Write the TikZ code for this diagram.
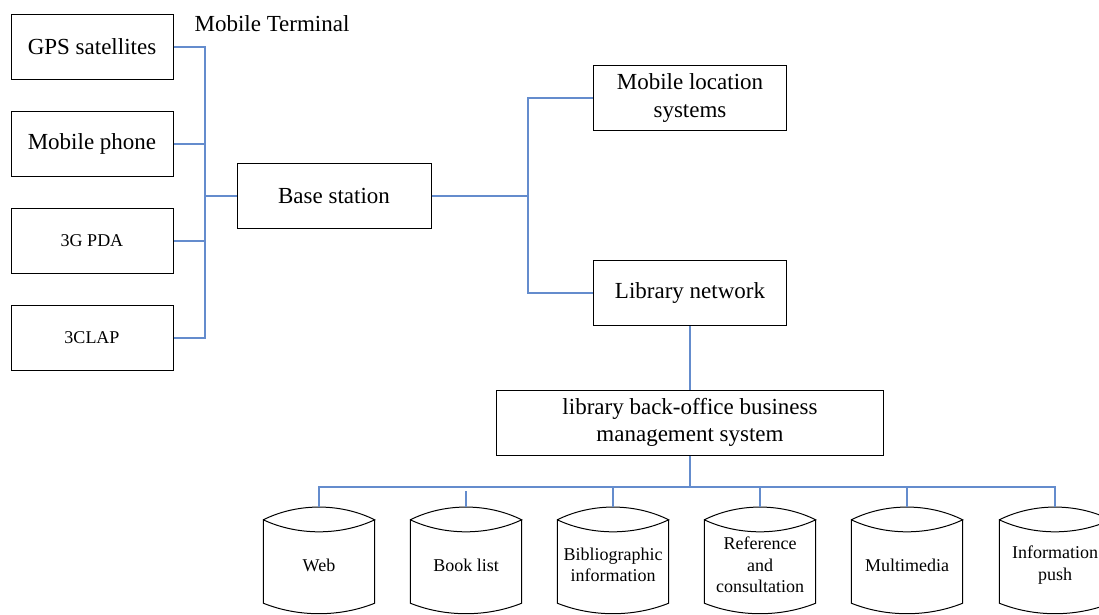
\documentclass[tikz,border=0pt]{standalone}
\usepackage{fontspec}
\setmainfont{Liberation Serif}
\usepackage{tikz}

\definecolor{linkblue}{RGB}{100,140,205}

\begin{document}
\begin{tikzpicture}[x=1pt,y=-1pt,
  termbox/.style={draw,line width=1pt,minimum width=162pt,minimum height=65pt,inner sep=0pt,font=\fontsize{23}{27.6}\selectfont},
  sysbox/.style={draw,line width=1pt,minimum height=65pt,inner sep=0pt,align=center,font=\fontsize{23}{27.6}\selectfont},
  smalltext/.style={font=\fontsize{18}{21.6}\selectfont},
  drum/.style={minimum width=111pt,minimum height=90pt,inner sep=0pt,align=center,font=\fontsize{18}{21.6}\selectfont},
  link/.style={draw=linkblue,line width=1.4pt}]
\useasboundingbox (0,0) rectangle (1099,614);

\node [termbox] (gps) at (92,47) {GPS satellites};
\node [termbox] (phone) at (92,144) {Mobile phone};
\node [termbox,smalltext] (pda) at (92,241) {3G PDA};
\node [termbox,smalltext] (clap) at (92,338) {3CLAP};
\node [font=\fontsize{23}{27.6}\selectfont] (mobterm) at (272,24) {Mobile Terminal};

\node [sysbox,minimum width=194pt] (base) at (334,196) {Base station};
\node [sysbox,minimum width=193pt] (mobloc) at (690,98) {Mobile location\\systems};
\node [sysbox,minimum width=193pt] (libnet) at (690,293) {Library network};
\node [sysbox,minimum width=387pt] (backoffice) at (690,422.5)
  {library back-office business\\management system};

\node [drum] (web) at (319,565) {Web};
\node [drum] (booklist) at (466,565) {Book list};
\node [drum] (biblio) at (613,565) {Bibliographic\\information};
\node [drum] (refcons) at (760,565) {Reference\\and\\consultation};
\node [drum] (multimedia) at (907,565) {Multimedia};
\node [drum] (infopush) at (1055,565) {Information\\push};

\foreach \n in {web,booklist,biblio,refcons,multimedia,infopush}{
  \draw [line width=1pt] (\n.north west) .. controls +(34,-17) and +(-34,-17) .. (\n.north east)
    .. controls +(-34,16) and +(34,16) .. (\n.north west) -- ([yshift=7pt]\n.south west)
    .. controls +(35,14) and +(-35,14) .. ([yshift=7pt]\n.south east) -- (\n.north east);
  \coordinate (\n-top) at ([yshift=13pt]\n.north);
}

\coordinate (mt) at (205,196);
\coordinate (bs) at (528,196);
\coordinate (bus) at (690,487);

\draw [link] (gps.east) -| (mt);
\draw [link] (phone.east) -| (mt);
\draw [link] (pda.east) -| (mt);
\draw [link] (clap.east) -| (mt);
\draw [link] (mt) -- (base.west);

\draw [link] (base.east) -- (bs);
\draw [link] (bs) |- (mobloc.west);
\draw [link] (bs) |- (libnet.west);
\draw [link] (libnet.south) -- (backoffice.north);
\draw [link] (backoffice.south) -- (bus);

\draw [link] (web-top) |- (bus) -| (infopush-top);
\foreach \n in {biblio,refcons,multimedia}
  \draw [link] (\n-top) -- (\n-top |- bus);
\draw [link,shorten >=4pt] (booklist-top) -- (booklist-top |- bus);
\end{tikzpicture}
\end{document}
